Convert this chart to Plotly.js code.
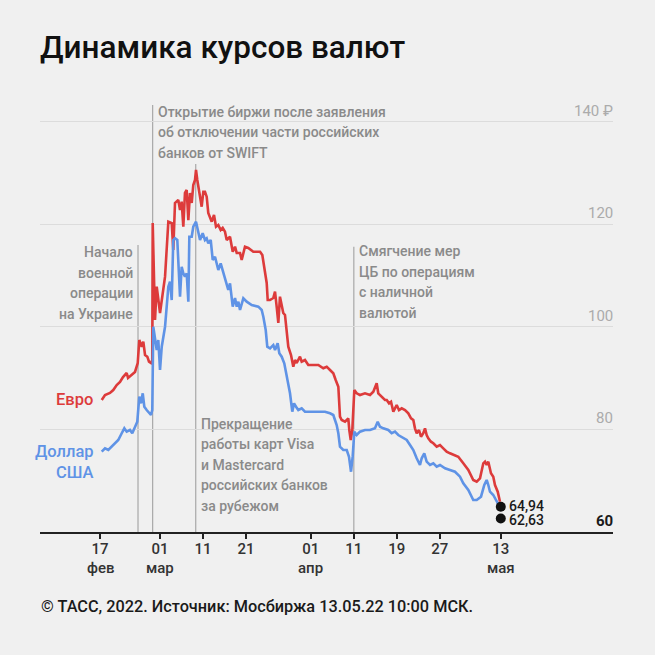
<!DOCTYPE html>
<html><head><meta charset="utf-8">
<script src="https://cdn.plot.ly/plotly-3.0.1.min.js"></script>
<style>html,body{margin:0;padding:0;background:#f0f0f0;}#chart{width:655px;height:655px;}</style>
</head><body><div id="chart"></div>
<script>
// x unit: trading sessions since 17 Feb 2022
const tickVals = [0, 8.37, 14.36, 20.36, 29.4, 35.4, 41.4, 47.4, 55.9];
const tickText = ['17', '01', '11', '21', '01', '11', '19', '27', '13'];
const monthVals = [0, 8.37, 29.4, 55.9];
const monthText = ['фев', 'мар', 'апр', 'мая'];

const euroX = [0.24,0.70,1.39,1.85,2.33,2.79,3.21,3.72,3.91,4.42,4.88,5.26,5.48,5.82,6.04,6.28,6.60,6.83,7.11,7.29,7.35,7.67,7.91,8.37,8.61,9.07,9.53,10.0,10.22,10.46,10.92,11.16,11.39,11.62,11.85,12.09,12.32,12.55,12.79,13.01,13.25,13.39,13.57,13.85,14.18,14.41,14.64,14.88,15.10,15.58,15.90,16.18,16.50,16.83,17.11,17.43,17.67,18.13,18.51,18.83,19.07,19.53,19.76,20.22,20.68,21.38,22.32,22.64,23.01,23.25,23.39,23.71,24.17,24.41,24.64,24.87,25.10,25.34,25.56,25.80,26.04,26.26,26.64,26.96,27.20,27.43,27.89,28.13,28.59,29.05,29.75,30.45,31.14,31.62,32.08,32.54,32.87,33.24,33.47,33.71,34.17,34.63,34.77,34.97,35.19,35.47,35.80,36.26,36.96,37.66,38.12,38.59,38.81,39.29,39.75,39.99,40.31,40.59,40.91,41.14,41.38,41.70,42.08,42.54,43.00,43.38,43.70,43.93,44.17,44.49,44.77,45.09,45.33,45.56,45.79,46.16,46.49,46.96,47.42,47.88,48.35,48.81,49.51,49.97,50.67,51.37,52.06,52.54,53.00,53.46,53.70,53.93,54.16,54.53,54.85,55.09,55.47,55.79];
const euroY = [85.76,86.73,87.12,87.70,88.68,89.27,90.24,91.02,90.05,90.63,91.22,92.97,97.46,96.15,97.13,94.53,94.20,93.22,92.97,93.56,120.28,101.36,107.86,102.73,105.26,109.81,120.54,120.28,115.02,124.19,124.77,122.83,124.44,119.56,126.14,126.73,120.86,126.14,124.19,127.71,128.68,130.63,128.68,126.14,123.47,126.39,126.39,125.42,122.24,120.54,121.85,119.56,119.90,118.93,119.32,118.59,116.97,117.61,114.69,115.66,114.43,114.43,113.07,115.66,115.41,114.69,114.69,114.04,111.12,108.58,105.26,105.26,105.65,106.88,103.96,100.78,105.91,103.96,102.73,102.34,99.41,96.15,94.53,92.25,93.56,92.97,94.20,93.22,93.56,92.58,92.58,92.58,91.94,92.25,91.61,90.97,89.66,88.35,82.50,81.85,81.52,82.18,79.90,77.95,79.90,87.70,87.06,86.73,87.06,86.73,87.37,89.01,87.06,86.40,85.75,85.75,85.11,85.42,83.47,84.13,84.78,83.80,84.13,83.80,83.16,82.18,81.85,80.23,79.26,79.90,78.59,79.26,80.23,78.92,78.28,77.62,77.31,76.64,76.97,76.33,75.67,75.35,75.02,74.69,73.40,72.10,70.15,69.81,70.48,73.40,73.72,73.07,73.72,71.45,70.79,69.17,67.86,65.91];

const usdX = [0.24,0.70,1.16,1.63,2.09,2.55,3.03,3.39,3.72,4.18,4.50,4.88,5.20,5.48,5.72,5.96,6.18,6.51,6.83,7.11,7.29,7.43,7.91,8.13,8.37,8.61,9.07,9.53,9.76,10.0,10.22,10.46,10.78,11.16,11.39,11.62,11.85,12.09,12.32,12.46,12.79,13.01,13.39,13.71,13.95,14.32,14.64,14.88,15.10,15.44,15.72,16.04,16.28,16.50,16.83,17.20,17.67,17.89,18.13,18.51,18.83,19.07,19.30,19.53,19.99,20.46,21.16,22.08,22.55,22.78,23.11,23.33,23.71,24.17,24.41,24.78,25.01,25.34,25.70,26.04,26.26,26.50,26.82,27.06,27.34,27.66,28.13,28.59,29.29,29.99,30.45,31.38,32.08,32.54,33.01,33.24,33.47,33.93,34.41,34.73,35.01,35.24,35.47,35.80,36.26,36.96,37.66,38.35,38.73,39.05,39.51,40.21,40.68,41.14,41.60,42.08,42.78,43.24,43.70,44.17,44.63,44.87,45.23,45.56,46.03,46.49,46.96,47.42,48.12,48.81,49.51,50.21,50.67,51.37,52.06,52.54,53.14,53.60,53.93,54.16,54.39,54.85,55.19,55.55,55.79];
const usdY = [75.67,76.33,76.00,76.64,77.31,77.95,79.26,80.23,79.57,79.90,79.26,80.54,81.52,86.40,85.11,87.06,84.45,83.80,83.16,82.83,83.80,100.05,95.51,97.46,91.61,96.15,100.05,107.86,108.83,105.26,116.97,117.30,116.97,105.91,111.76,110.47,109.81,110.47,104.93,117.61,117.61,119.56,120.54,118.59,116.97,118.28,116.97,117.30,116.33,116.97,113.07,113.71,112.42,111.12,112.42,110.47,107.86,107.22,108.52,103.96,105.65,103.96,104.93,103.31,105.59,104.93,104.29,103.96,103.31,102.01,99.41,96.15,95.84,96.48,95.51,96.82,94.86,94.20,92.91,90.30,88.35,87.06,83.47,85.11,84.45,83.80,84.13,83.47,83.47,83.47,83.47,83.47,83.16,82.83,80.88,79.26,76.64,76.00,76.00,74.69,71.76,74.69,79.57,78.92,79.57,79.90,79.90,80.23,81.52,80.54,80.23,79.90,79.26,79.57,78.92,78.59,77.95,76.97,76.00,74.38,73.07,74.38,75.35,73.72,73.07,73.40,72.74,73.07,72.43,72.10,71.76,70.79,69.50,68.19,66.24,66.24,66.89,69.17,70.15,69.17,67.86,67.22,66.24,65.27,64.82];

const lastX = [55.9, 55.9];
const lastY = [64.94, 62.63];
const lastText = ['64,94', '62,63'];

const yTicks = [140, 120, 100, 80];
const yTickText = ['140 ₽', '120', '100', '80'];

const eventX = [5.3, 7.34, 13.35, 35.4];
const eventTop = [116, 143.3, 131.8, 115.67];
const eventLines = [
  ['Начало', 'военной', 'операции', 'на Украине'],
  ['Открытие биржи после заявления', 'об отключении части российских', 'банков от SWIFT'],
  ['Прекращение', 'работы карт Visa', 'и Mastercard', 'российских банков', 'за рубежом'],
  ['Смягчение мер', 'ЦБ по операциям', 'с наличной', 'валютой']
];
const eventTextY = [114.6, 142.0, 81.1, 114.8];
const eventSide = ['left', 'right', 'right', 'right'];

const RED = '#dd3b3b', BLUE = '#5f93e6', GRAY = '#8a8a8a';
const FONT = 'Roboto, "Noto Sans", sans-serif';

const traces = [
  {x: euroX, y: euroY, mode: 'lines', line: {color: RED, width: 2.6}, hoverinfo: 'skip'},
  {x: usdX, y: usdY, mode: 'lines', line: {color: BLUE, width: 2.6}, hoverinfo: 'skip'},
  {x: lastX, y: lastY, mode: 'markers', marker: {color: '#111', size: 10}, cliponaxis: false, hoverinfo: 'skip'}
];

const shapes = eventX.map((x, i) => ({
  type: 'line', xref: 'x', yref: 'y', x0: x, x1: x, y0: 60, y1: eventTop[i],
  line: {color: '#a8a8a8', width: 1.2}, layer: 'below'
}));

const annotations = [];
const LINE_STEP = 4.0;
eventLines.forEach((lines, i) => {
  lines.forEach((t, j) => {
    const left = eventSide[i] === 'right';
    annotations.push({
      x: eventX[i], y: eventTextY[i] - j * LINE_STEP, xref: 'x', yref: 'y',
      text: t, showarrow: false, xanchor: left ? 'left' : 'right', yanchor: 'middle',
      xshift: left ? 4 : -4, borderpad: 0,
      font: {family: FONT, size: 14, color: GRAY, weight: 500}
    });
  });
});
yTicks.forEach((v, i) => {
  annotations.push({x: 1, xref: 'paper', y: v, yref: 'y', text: yTickText[i], showarrow: false,
    xanchor: 'right', yanchor: 'middle', yshift: 11, xshift: 2,
    font: {family: FONT, size: 15, color: '#ababab'}});
});
annotations.push({x: 1, xref: 'paper', y: 60, yref: 'y', text: '60', showarrow: false,
  xanchor: 'right', yanchor: 'middle', yshift: 11, xshift: 2,
  font: {family: FONT, size: 15, color: '#1a1a1a', weight: 700}});
lastY.forEach((v, i) => {
  annotations.push({x: lastX[i], y: v, xref: 'x', yref: 'y', text: lastText[i], showarrow: false,
    xanchor: 'left', yanchor: 'middle', xshift: 7, yshift: i === 0 ? 1 : -1, borderpad: 0,
    font: {family: FONT, size: 14, color: '#1a1a1a', weight: 500}});
});
monthVals.forEach((v, i) => {
  annotations.push({x: v, xref: 'x', y: -0.08, yref: 'paper', text: monthText[i], showarrow: false,
    xanchor: 'center', yanchor: 'middle', borderpad: 0,
    font: {family: FONT, size: 15, color: '#333', weight: 500}});
});
annotations.push({x: euroX[0], y: euroY[0], xref: 'x', yref: 'y', text: 'Евро', showarrow: false,
  xanchor: 'right', yanchor: 'middle', xshift: -7,
  font: {family: FONT, size: 16.5, color: RED, weight: 500}});
annotations.push({x: usdX[0], y: usdY[0], xref: 'x', yref: 'y', text: 'Доллар', showarrow: false,
  xanchor: 'right', yanchor: 'middle', xshift: -7, borderpad: 0,
  font: {family: FONT, size: 16.5, color: BLUE, weight: 500}});
annotations.push({x: usdX[0], y: usdY[0] - LINE_STEP, xref: 'x', yref: 'y', text: 'США', showarrow: false,
  xanchor: 'right', yanchor: 'middle', xshift: -7, borderpad: 0,
  font: {family: FONT, size: 16.5, color: BLUE, weight: 500}});
annotations.push({x: 0, xref: 'paper', y: -0.167, yref: 'paper', text: '© ТАСС, 2022. Источник: Мосбиржа 13.05.22 10:00 МСК.',
  showarrow: false, xanchor: 'left', yanchor: 'middle', xshift: -1,
  font: {family: FONT, size: 16.3, color: '#1a1a1a', weight: 500}});

const layout = {
  width: 655, height: 655,
  margin: {l: 40, r: 42, t: 83, b: 123},
  paper_bgcolor: '#f0f0f0', plot_bgcolor: '#f0f0f0',
  showlegend: false,
  title: {text: 'Динамика курсов валют', x: 0, xref: 'paper', xanchor: 'left',
    y: 1 - 47 / 655, yref: 'container', yanchor: 'middle',
    font: {family: FONT, size: 31.5, color: '#111', weight: 500}},
  xaxis: {range: [-8.37, 71.55], tickvals: tickVals, ticktext: tickText,
    showline: true, linecolor: '#222', linewidth: 2, ticks: 'outside', ticklen: 5, tickwidth: 1.5, tickcolor: '#222',
    ticklabelstandoff: -3,
    showgrid: false, zeroline: false, fixedrange: true,
    tickfont: {family: FONT, size: 15, color: '#333', weight: 500}},
  yaxis: {range: [60, 147.6], tickvals: yTicks, showticklabels: false, showgrid: true,
    gridcolor: '#dcdcdc', gridwidth: 1, zeroline: false, showline: false, ticks: '', fixedrange: true},
  shapes: shapes,
  annotations: annotations
};

Plotly.newPlot('chart', traces, layout, {displayModeBar: false, staticPlot: true});
</script>
</body></html>
